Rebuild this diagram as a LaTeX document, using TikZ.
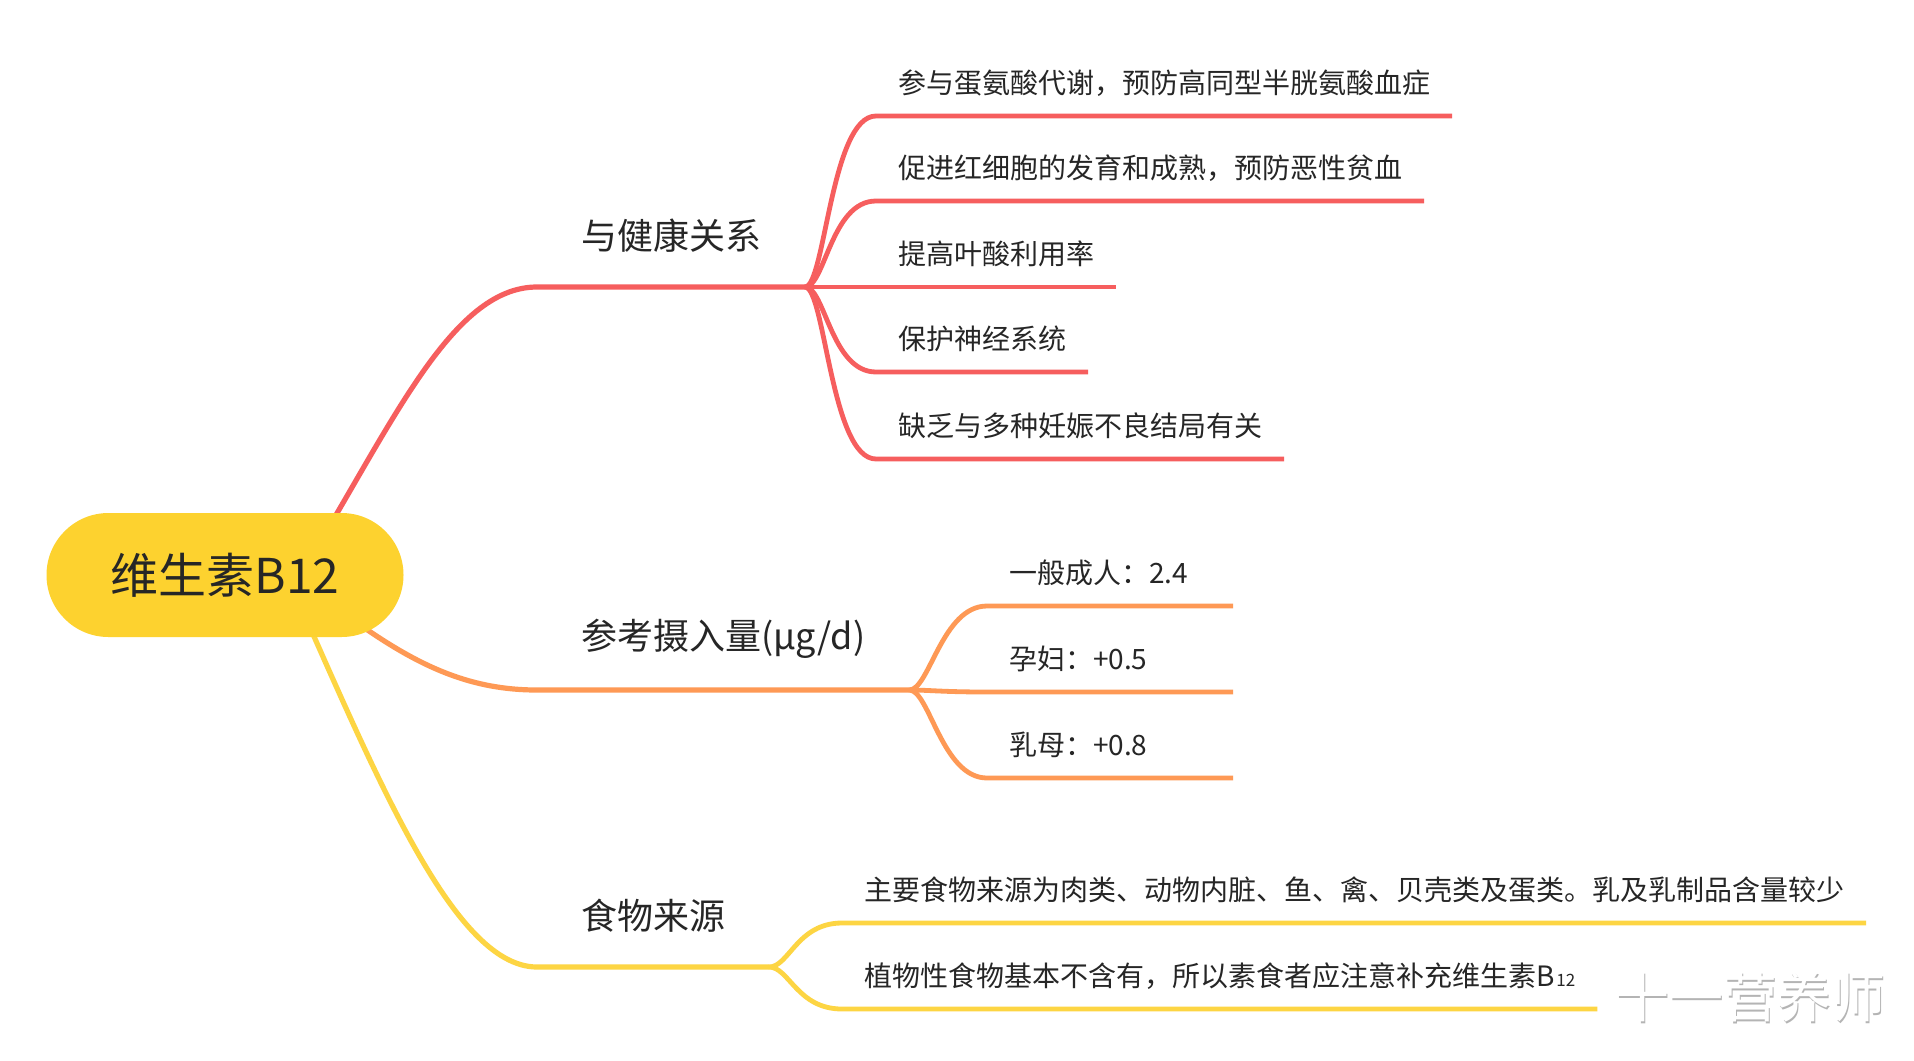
\documentclass[tikz,border=0pt]{standalone}
\usepackage{fontspec}
\newfontfamily\cjkfont{Noto Sans CJK SC}
\usepackage{tikz}
\usetikzlibrary{calc,backgrounds,shapes.misc}
\definecolor{VBInk}{HTML}{262626}
\definecolor{VBRoot}{HTML}{FDD22F}
\definecolor{VBRed}{HTML}{F65E5E}
\definecolor{VBOrange}{HTML}{FE9955}
\definecolor{VBYellow}{HTML}{FDD543}
\definecolor{VBMark}{HTML}{B4B4B4}
\tikzset{
  rootnode/.style={rounded rectangle, fill=VBRoot, text=VBInk, minimum width=178.5pt,
    minimum height=62pt, inner sep=0pt, font=\cjkfont\fontsize{24}{28}\selectfont},
  branchnode/.style={anchor=south west, text=VBInk, inner xsep=22pt, inner ysep=0pt,
    minimum height=51pt, outer sep=0pt, font=\cjkfont\fontsize{18}{22}\selectfont},
  leafnode/.style={anchor=south west, text=VBInk, inner xsep=11pt, inner ysep=0pt,
    minimum height=33pt, outer sep=0pt, font=\cjkfont\fontsize{14}{17}\selectfont},
  intakeleaf/.style={leafnode, text width=101pt, align=left},
  branchline/.style={line width=2.6pt},
  leafline/.style={line width=2.4pt},
}
% root to branch: branch, colour, start offset, control 1, control 2
\newcommand{\mainlink}[5]{%
  \draw[branchline, #2] ($(root.center)+#3$) .. controls #4 and #5 .. (#1.south west)
    -- (#1.south east);
}
% leaf: style, name, branch, colour, x, y, text
\newcommand{\leaf}[7]{%
  \node[#1] (#2) at (#5,#6) {#7};
  \draw[leafline, #4] (#3.south east)
    .. controls ($(#3.south east)+(20,0)$) and ($(#2.south west)+(-45,0)$) .. (#2.south west)
    -- (#2.south east);
}

\begin{document}
\begin{tikzpicture}[x=0.5pt,y=-0.5pt]
  \useasboundingbox (0,0) rectangle (1914,1060);

  \node[rootnode] (root) at (225,575) {维生素B12};

  \node[branchnode] (health) at (537,287) {与健康关系};
  \node[branchnode] (intake) at (537,690) {参考摄入量(μg/d)};
  \node[branchnode] (food) at (537,967) {食物来源};

  \begin{pgfonlayer}{background}
    \fill[white] (0,0) rectangle (1914,1060);
    \mainlink{health}{VBRed}{(75,0)}{(390,430)}{(450,287)}
    \mainlink{intake}{VBOrange}{(75,5)}{(390,650)}{(450,690)}
    \mainlink{food}{VBYellow}{(55,-15)}{(370,760)}{(450,967)}
  \end{pgfonlayer}

  % health
  \leaf{leafnode}{h1}{health}{VBRed}{876}{116}{参与蛋氨酸代谢，预防高同型半胱氨酸血症}
  \leaf{leafnode}{h2}{health}{VBRed}{876}{201}{促进红细胞的发育和成熟，预防恶性贫血}
  \leaf{leafnode}{h3}{health}{VBRed}{876}{287}{提高叶酸利用率}
  \leaf{leafnode}{h4}{health}{VBRed}{876}{372}{保护神经系统}
  \leaf{leafnode}{h5}{health}{VBRed}{876}{459}{缺乏与多种妊娠不良结局有关}

  % intake
  \leaf{intakeleaf}{i1}{intake}{VBOrange}{987}{606}{一般成人：2.4}
  \leaf{intakeleaf}{i2}{intake}{VBOrange}{987}{692}{孕妇：+0.5}
  \leaf{intakeleaf}{i3}{intake}{VBOrange}{987}{778}{乳母：+0.8}

  % food
  \leaf{leafnode}{f1}{food}{VBYellow}{842}{923}{主要食物来源为肉类、动物内脏、鱼、禽、贝壳类及蛋类。乳及乳制品含量较少}
  \leaf{leafnode}{f2}{food}{VBYellow}{842}{1009}{植物性食物基本不含有，所以素食者应注意补充维生素B\kern1pt{\fontsize{8.5}{9}\selectfont 12}}

  % watermark
  \node[font=\cjkfont\fontsize{27}{30}\selectfont, text=VBMark] (markshade) at (1751.5,998.5) {十一营养师};
  \node[font=\cjkfont\fontsize{27}{30}\selectfont, text=white] (mark) at (1750,997) {十一营养师};
\end{tikzpicture}
\end{document}
